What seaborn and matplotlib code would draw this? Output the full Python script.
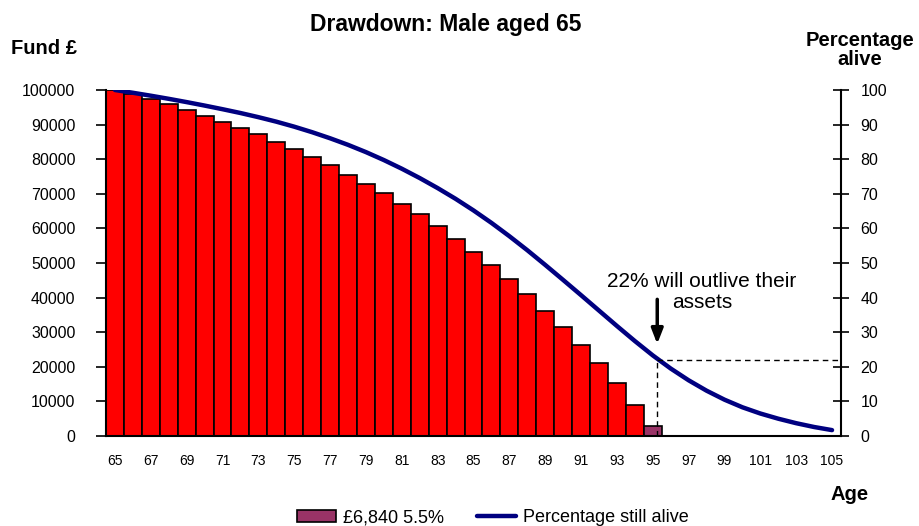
import numpy as np
import pandas as pd
import seaborn as sns
import matplotlib.pyplot as plt
from matplotlib.patches import Patch
from matplotlib.lines import Line2D

# ages 65..105, fund left at each age, and % of men still alive
ages = list(range(65, 106))
fund = [100000, 98800, 97300, 95900, 94200, 92600, 90800, 89100, 87200, 85100,
        83000, 80700, 78300, 75500, 72900, 70150, 67100, 64050, 60700, 56900,
        53200, 49450, 45400, 41000, 36200, 31500, 26300, 21000, 15200, 9050,
        3000, 0, 0, 0, 0, 0, 0, 0, 0, 0, 0]
alive = [100.0, 99.2, 98.35, 97.45, 96.5, 95.5, 94.45, 93.35, 92.15, 90.85,
         89.4, 87.8, 86.05, 84.15, 82.05, 79.75, 77.25, 74.55, 71.65, 68.55,
         65.2, 61.6, 57.75, 53.7, 49.45, 45.1, 40.7, 36.25, 31.8, 27.45,
         23.3, 19.5, 16.1, 13.1, 10.5, 8.3, 6.5, 5.0, 3.7, 2.6, 1.7]
outlive_pct = 22
series_name = "£6,840 5.5%"
line_name = "Percentage still alive"

df = pd.DataFrame({"age": ages, "fund": fund, "alive": alive})
df["pos"] = np.arange(len(df))

sns.set_style("white")
plt.rcParams['font.family'] = ['Liberation Sans', 'DejaVu Sans']
for k in ["text.color", "axes.labelcolor", "xtick.color", "ytick.color"]:
    plt.rcParams[k] = "black"

fig = plt.figure(figsize=(9.2, 5.26), dpi=100)
ax = fig.add_axes([106/920, 1-436/526, (841-106)/920, (436-90)/526])

sns.barplot(data=df, x="age", y="fund", color="#FF0000", width=1.0,
            edgecolor="black", linewidth=1.2, saturation=1, ax=ax)
# the last bar with money left keeps the series colour
last = ages.index(95)
ax.patches[last].set_facecolor("#993366")

ax.set_xlim(-0.5, len(ages) - 0.5)
ax.set_ylim(0, 100000)
ax.set_xlabel("")
ax.set_ylabel("")
ax.set_yticks(range(0, 100001, 10000))
ax.set_xticks(range(0, len(ages), 2), [str(a) for a in ages[::2]])
ax.set_xticks(np.arange(-0.5, len(ages), 1), minor=True)
ax.tick_params(axis="x", which="major", length=0, pad=13, labelsize=10)
ax.tick_params(axis="x", which="minor", length=6, width=1.2, direction="out")
ax.tick_params(axis="y", length=7, width=1.2, direction="out", pad=15, labelsize=11.5)
for s in ["left", "bottom"]:
    ax.spines[s].set_linewidth(1.5)
    ax.spines[s].set_color("black")
ax.spines["top"].set_visible(False)
ax.spines["right"].set_visible(False)

ax2 = ax.twinx()
sns.lineplot(data=df, x="pos", y="alive", color="#000080", linewidth=3.2, ax=ax2)
ax2.set_ylim(0, 100)
ax2.set_xlim(-0.5, len(ages) - 0.5)
ax2.set_yticks(range(0, 101, 10))
ax2.set_ylabel("")
ax2.set_xlabel("")
ax2.tick_params(axis="y", length=12, width=1.2, direction="inout", pad=8, labelsize=11.5)
ax2.spines["right"].set_linewidth(1.5)
ax2.spines["right"].set_color("black")
for s in ["top", "left", "bottom"]:
    ax2.spines[s].set_visible(False)

# where the money runs out
xo = last + 0.25
ax2.plot([xo, xo], [0, outlive_pct], ls=(0, (4, 3)), color="black", lw=1)
ax2.plot([xo, len(ages) - 0.5], [outlive_pct, outlive_pct], ls=(0, (4, 3)), color="black", lw=1)
ax2.annotate("", xy=(xo, 26.6), xytext=(xo, 39.5),
             arrowprops=dict(arrowstyle="-|>,head_width=0.35,head_length=0.9",
                             color="black", lw=2.5, shrinkA=0, shrinkB=0))
fig.text(702/920, 1-292/526, "22% will outlive their\nassets", ha="center", va="center",
         fontsize=15, linespacing=1.1)

fig.text(446/920, 1-25/526, "Drawdown: Male aged 65", ha="center", va="center",
         fontsize=16.5, fontweight="bold")
fig.text(44/920, 1-49/526, "Fund £", ha="center", va="center", fontsize=14.5, fontweight="bold")
fig.text(860/920, 1-50/526, "Percentage\nalive", ha="center", va="center", fontsize=14.5,
         fontweight="bold", linespacing=1.0)
fig.text(850/920, 1-494/526, "Age", ha="center", va="center", fontsize=14.5, fontweight="bold")

handles = [Patch(facecolor="#993366", edgecolor="black", lw=1.2),
           Line2D([0], [0], color="#000080", lw=3.2)]
fig.legend(handles, [series_name, line_name], loc="center", ncol=2, frameon=False,
           bbox_to_anchor=(493/920, 1-518/526), fontsize=13, handlelength=2.15,
           handleheight=0.65, columnspacing=1.85, handletextpad=0.4, borderpad=0)

fig.savefig("out.png", dpi=100)
